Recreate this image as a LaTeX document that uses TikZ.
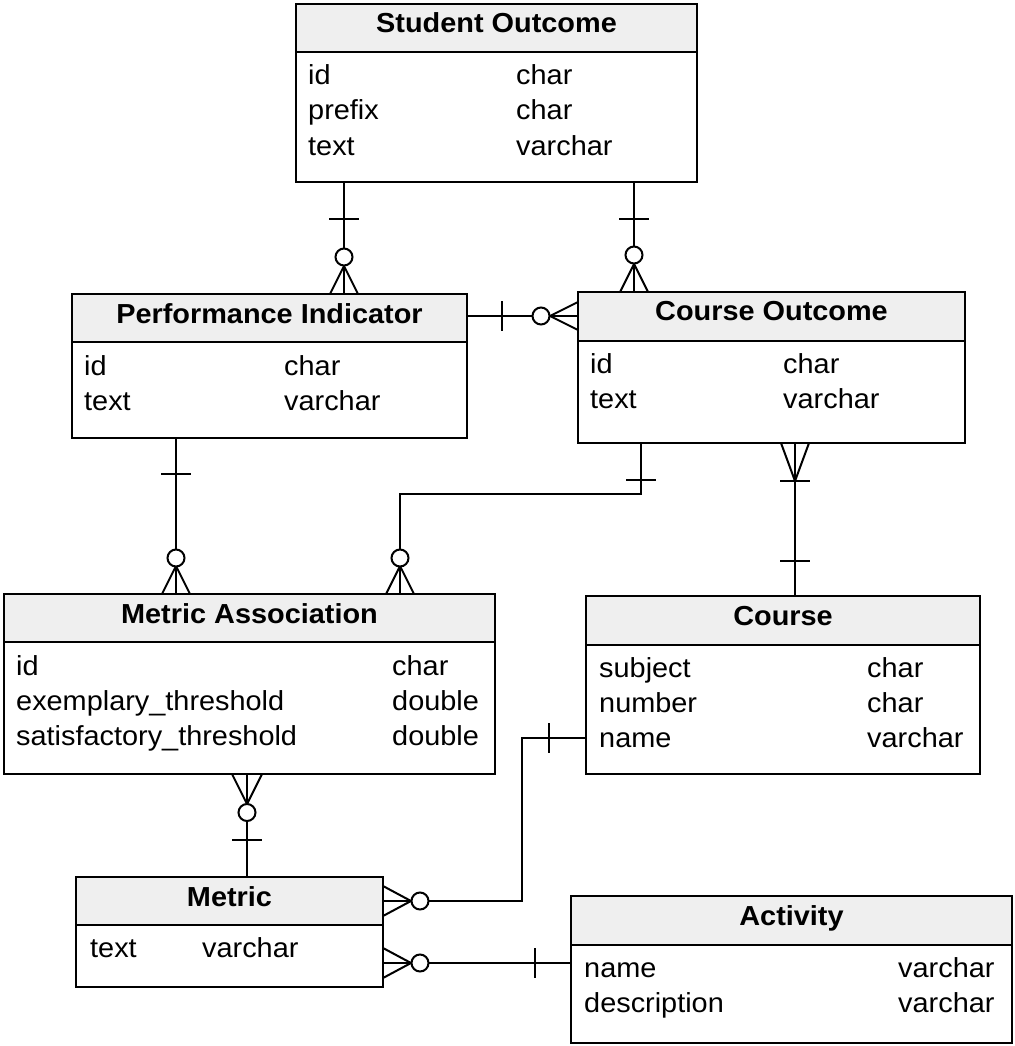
\documentclass[tikz,border=0pt]{standalone}
\usepackage{fontspec}
\setmainfont{Liberation Sans}[FakeStretch=1.05]
\definecolor{hdrgray}{HTML}{EFEFEF}
\tikzset{
  ent/.style={draw, line width=2.2pt, inner sep=0pt, outer sep=0pt, anchor=north west},
  hdr/.style={draw, line width=2.2pt, fill=hdrgray, inner sep=0pt, outer sep=0pt, anchor=north west},
  ttl/.style={inner sep=0pt, anchor=base, font=\fontsize{27.5}{33}\selectfont\bfseries},
  fld/.style={inner sep=0pt, anchor=base west, font=\fontsize{27.5}{33}\selectfont},
  conn/.style={line width=2pt},
  ring/.style={line width=2pt, fill=white}
}
\begin{document}
\begin{tikzpicture}[x=1pt,y=-1pt]
\useasboundingbox (0,0) rectangle (1014,1046);

% ---------- Student Outcome
\node[ent, minimum width=401pt, minimum height=178pt] (so) at (296,4) {};
\node[hdr, minimum width=401pt, minimum height=48pt] (soh) at (296,4) {};
\node[ttl] (sot) at (496.5,33) {Student Outcome};
\node[fld] (so1) at (308,85) {id};
\node[fld] (so2) at (308,120) {prefix};
\node[fld] (so3) at (308,155) {text};
\node[fld] (so1t) at (516,85) {char};
\node[fld] (so2t) at (516,120) {char};
\node[fld] (so3t) at (516,155) {varchar};

% ---------- Performance Indicator
\node[ent, minimum width=395pt, minimum height=144pt] (pi) at (72,294) {};
\node[hdr, minimum width=395pt, minimum height=48pt] (pih) at (72,294) {};
\node[ttl] (pit) at (269.5,323) {Performance Indicator};
\node[fld] (pi1) at (84,375) {id};
\node[fld] (pi2) at (84,410) {text};
\node[fld] (pi1t) at (284,375) {char};
\node[fld] (pi2t) at (284,410) {varchar};

% ---------- Course Outcome
\node[ent, minimum width=387pt, minimum height=151pt] (co) at (578,292) {};
\node[hdr, minimum width=387pt, minimum height=49pt] (coh) at (578,292) {};
\node[ttl] (cot) at (771.5,320) {Course Outcome};
\node[fld] (co1) at (590,373) {id};
\node[fld] (co2) at (590,408) {text};
\node[fld] (co1t) at (783,373) {char};
\node[fld] (co2t) at (783,408) {varchar};

% ---------- Metric Association
\node[ent, minimum width=491pt, minimum height=180pt] (ma) at (4,594) {};
\node[hdr, minimum width=491pt, minimum height=48pt] (mah) at (4,594) {};
\node[ttl] (mat) at (249.5,623) {Metric Association};
\node[fld] (ma1) at (16,675) {id};
\node[fld] (ma2) at (16,710) {exemplary\_threshold};
\node[fld] (ma3) at (16,745) {satisfactory\_threshold};
\node[fld] (ma1t) at (392,675) {char};
\node[fld] (ma2t) at (392,710) {double};
\node[fld] (ma3t) at (392,745) {double};

% ---------- Course
\node[ent, minimum width=394pt, minimum height=178pt] (cs) at (586,596) {};
\node[hdr, minimum width=394pt, minimum height=49pt] (csh) at (586,596) {};
\node[ttl] (cst) at (783,625) {Course};
\node[fld] (cs1) at (599,677) {subject};
\node[fld] (cs2) at (599,712) {number};
\node[fld] (cs3) at (599,747) {name};
\node[fld] (cs1t) at (867,677) {char};
\node[fld] (cs2t) at (867,712) {char};
\node[fld] (cs3t) at (867,747) {varchar};

% ---------- Metric
\node[ent, minimum width=307pt, minimum height=110pt] (me) at (76,877) {};
\node[hdr, minimum width=307pt, minimum height=48pt] (meh) at (76,877) {};
\node[ttl] (met) at (229.5,906) {Metric};
\node[fld] (me1) at (90,957) {text};
\node[fld] (me1t) at (202,957) {varchar};

% ---------- Activity
\node[ent, minimum width=441pt, minimum height=147pt] (ac) at (571,896) {};
\node[hdr, minimum width=441pt, minimum height=49pt] (ach) at (571,896) {};
\node[ttl] (act) at (791.5,925) {Activity};
\node[fld] (ac1) at (584,977) {name};
\node[fld] (ac2) at (584,1012) {description};
\node[fld] (ac1t) at (898,977) {varchar};
\node[fld] (ac2t) at (898,1012) {varchar};

% ================= connectors
% 1 Student Outcome -> Performance Indicator
\draw[conn] ([xshift=48pt]so.south west) coordinate (c1a) -- ([xshift=272pt]pi.north west) coordinate (c1b);
\draw[conn] (c1a) ++(-15,37) -- ++(30,0);
\draw[conn] (c1b) ++(-14,0) -- ++(14,-28) -- ++(14,28);
\draw[ring] (c1b) ++(0,-37) circle[radius=8.5pt];

% 2 Student Outcome -> Course Outcome
\draw[conn] ([xshift=338pt]so.south west) coordinate (c2a) -- ([xshift=56pt]co.north west) coordinate (c2b);
\draw[conn] (c2a) ++(-15,37) -- ++(30,0);
\draw[conn] (c2b) ++(-14,0) -- ++(14,-28) -- ++(14,28);
\draw[ring] (c2b) ++(0,-37) circle[radius=8.5pt];

% 3 Performance Indicator -> Course Outcome
\draw[conn] ([yshift=-22pt]pi.north east) coordinate (c3a) -- ([yshift=-24pt]co.north west) coordinate (c3b);
\draw[conn] (c3a) ++(35,-15) -- ++(0,30);
\draw[conn] (c3b) ++(0,-14) -- ++(-28,14) -- ++(28,14);
\draw[ring] (c3b) ++(-37,0) circle[radius=8.5pt];

% 4 Performance Indicator -> Metric Association
\draw[conn] ([xshift=104pt]pi.south west) coordinate (c4a) -- ([xshift=172pt]ma.north west) coordinate (c4b);
\draw[conn] (c4a) ++(-15,36) -- ++(30,0);
\draw[conn] (c4b) ++(-14,0) -- ++(14,-28) -- ++(14,28);
\draw[ring] (c4b) ++(0,-36) circle[radius=8.5pt];

% 5 Course Outcome -> Metric Association
\draw[conn] ([xshift=63pt]co.south west) coordinate (c5a) -- ++(0,51) -| ([xshift=396pt]ma.north west) coordinate (c5b);
\draw[conn] (c5a) ++(-15,37) -- ++(30,0);
\draw[conn] (c5b) ++(-14,0) -- ++(14,-28) -- ++(14,28);
\draw[ring] (c5b) ++(0,-36) circle[radius=8.5pt];

% 6 Course Outcome -> Course
\draw[conn] ([xshift=217pt]co.south west) coordinate (c6a) -- ([xshift=209pt]cs.north west) coordinate (c6b);
\draw[conn] (c6a) ++(-14,0) -- ++(14,38) -- ++(14,-38);
\draw[conn] (c6a) ++(-15,38) -- ++(30,0);
\draw[conn] (c6b) ++(-15,-35) -- ++(30,0);

% 7 Metric Association -> Metric
\draw[conn] ([xshift=243pt]ma.south west) coordinate (c7a) -- ([xshift=171pt]me.north west) coordinate (c7b);
\draw[conn] (c7a) ++(-15,0) -- ++(15,30) -- ++(15,-30);
\draw[conn] (c7b) ++(-15,-37) -- ++(30,0);
\draw[ring] (c7a) ++(0,38.5) circle[radius=8.5pt];

% 8 Course -> Metric
\draw[conn] ([yshift=-142pt]cs.north west) coordinate (c8a) -- ++(-64,0) |- ([yshift=-24pt]me.north east) coordinate (c8b);
\draw[conn] (c8a) ++(-37,-15) -- ++(0,30);
\draw[conn] (c8b) ++(0,-15) -- ++(28,15) -- ++(-28,15);
\draw[ring] (c8b) ++(37,0) circle[radius=8.5pt];

% 9 Activity -> Metric
\draw[conn] ([yshift=-67pt]ac.north west) coordinate (c9a) -- ([yshift=-86pt]me.north east) coordinate (c9b);
\draw[conn] (c9a) ++(-36,-15) -- ++(0,30);
\draw[conn] (c9b) ++(0,-15) -- ++(28,15) -- ++(-28,15);
\draw[ring] (c9b) ++(37,0) circle[radius=8.5pt];
\end{tikzpicture}
\end{document}
